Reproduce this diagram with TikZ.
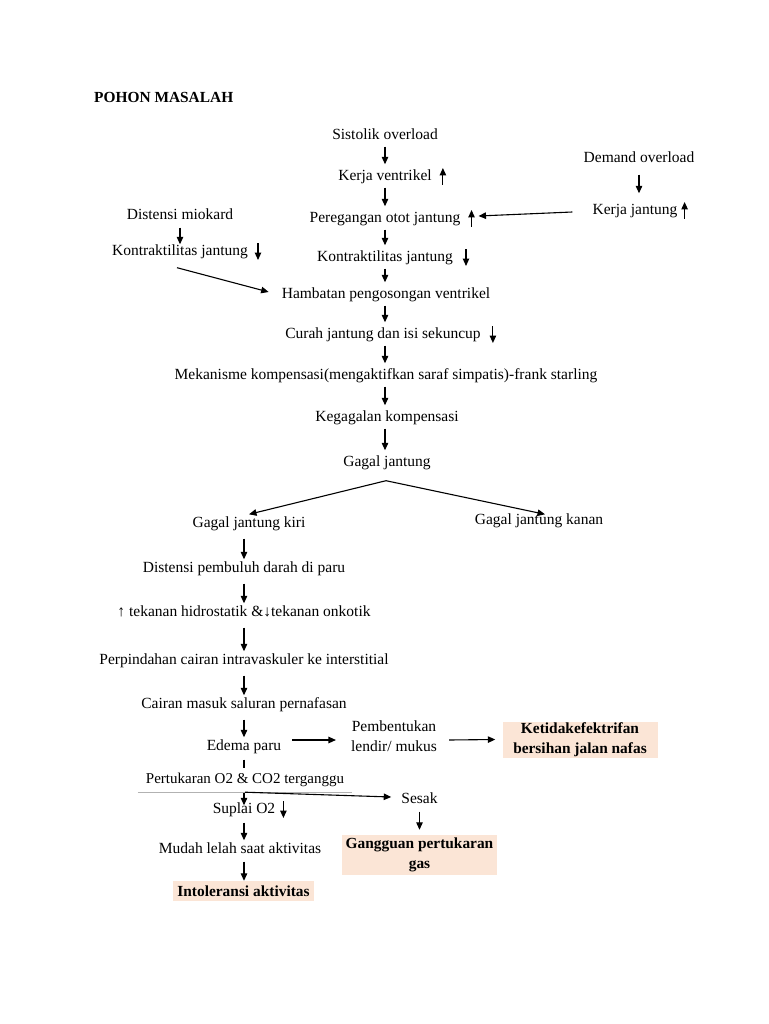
\documentclass[tikz,border=0pt]{standalone}
\usepackage{fontspec}
\setmainfont{Liberation Serif}
\usetikzlibrary{arrows.meta}
\definecolor{peach}{HTML}{FBE5D6}

% tanda naik / turun di samping teks
\newcommand\naik[2][10]{\draw[arr] ([shift={(#1,10)}]#2.east) -- ++(0,-17);}
\newcommand\turun[2][10]{\draw[arr] ([shift={(#1,-7)}]#2.east) -- ++(0,17);}

\begin{document}
\begin{tikzpicture}[x=1pt,y=-1pt,
  every node/.style={inner sep=1pt,text height=12pt,text depth=1pt,font=\fontsize{15.5}{19}\selectfont},
  arr/.style={-{Triangle[length=7.5pt,width=6.5pt]},line width=1.1pt},
  utama/.style={arr,shorten <=5pt,shorten >=3pt},
  kiri/.style={arr,shorten <=9pt,shorten >=0pt},
  hasil/.style={fill=peach,align=center,inner sep=0pt,text height=,text depth=,font=\fontsize{15.4}{19.5}\selectfont\bfseries}]
\useasboundingbox[fill=white] (0,0) rectangle (768,1024);

\node[anchor=west,font=\fontsize{15.4}{18}\selectfont\bfseries] (judul) at (93,97) {POHON MASALAH};

% jalur tengah
\node (so) at (385,134) {Sistolik overload};
\node (kv) at (385,175) {Kerja ventrikel};
\node (pj) at (385,217) {Peregangan otot jantung};
\node (km) at (385,256) {Kontraktilitas jantung};
\node (hb) at (386,293) {Hambatan pengosongan ventrikel};
\node (cj) at (383,333) {Curah jantung dan isi sekuncup};
\node (mk) at (386,374) {Mekanisme kompensasi(mengaktifkan saraf simpatis)-frank starling};
\node (kk) at (387,416) {Kegagalan kompensasi};
\node (gj) at (387,461) {Gagal jantung};

\draw[utama] (so.south -| km) -- (kv.north -| km);
\draw[utama] (kv.south -| km) -- (pj.north -| km);
\draw[utama] (pj.south -| km) -- (km.north);
\draw[utama] (km.south) -- (hb.north -| km);
\draw[utama] (hb.south -| km) -- (cj.north -| km);
\draw[utama] (cj.south -| km) -- (mk.north -| km);
\draw[utama] (mk.south -| km) -- (kk.north -| km);
\draw[utama] (kk.south -| km) -- (gj.north -| km);
\naik{kv}
\naik{pj}
\turun[12]{km}
\turun[11]{cj}

% kanan atas
\node (dmo) at (639,157) {Demand overload};
\node (kj) at (635,209) {Kerja jantung};
\draw[arr,shorten <=10pt,shorten >=8pt] (dmo.south) -- (dmo.south |- kj.north);
\naik[6]{kj}
\draw[arr] ([shift={(-19,3)}]kj.west) -- ([shift={(17,-1)}]pj.east);

% kiri atas
\node (dm) at (180,214) {Distensi miokard};
\node (kl) at (180,250) {Kontraktilitas jantung};
\draw[arr,shorten <=6pt,shorten >=-2pt] (dm) -- (kl);
\turun[9]{kl}
\draw[arr] ([shift={(-3,10)}]kl.south) -- ([shift={(-12,-1)}]hb.west);

% cabang
\node (gjki) at (249,522) {Gagal jantung kiri};
\node (gjka) at (539,519) {Gagal jantung kanan};
\draw[arr] ([shift={(-1,12)}]gj.south) -- (gjki.north);
\draw[arr] ([shift={(-1,12)}]gj.south) -- ([shift={(6,3)}]gjka.north);

% jalur kiri
\node (dp) at (244,567) {Distensi pembuluh darah di paru};
\node (tk) at (244,611) {↑ tekanan hidrostatik \&↓tekanan onkotik};
\node (pc) at (244,659) {Perpindahan cairan intravaskuler ke interstitial};
\node (cm) at (244,703) {Cairan masuk saluran pernafasan};
\node (ep) at (244,745) {Edema paru};
\node (sp) at (244,808) {Suplai O2};
\node (ml) at (240,848) {Mudah lelah saat aktivitas};
\node[hasil,minimum width=141pt,minimum height=20pt] (ia) at (243.5,891) {Intoleransi aktivitas};

\draw[kiri] (gjki.south -| dp) -- (dp);
\draw[kiri] (dp) -- (tk);
\draw[kiri] (tk) -- (pc);
\draw[kiri] (pc) -- (cm);
\draw[kiri] (cm) -- (ep);
\draw[arr,shorten <=7pt,shorten >=-5pt] (ep) -- (sp);
\turun[7]{sp}
\draw[arr,shorten <=7pt,shorten >=0pt] (sp.south) -- (ml.north -| sp);
\draw[arr,shorten <=6pt,shorten >=0pt] (ml.south -| sp) -- (ia.north -| sp);

% kotak putih menutupi panah
\node[fill=white,minimum width=214pt,minimum height=24pt,text height=,text depth=,font=\fontsize{15}{18}\selectfont] (pt) at (245,780) {Pertukaran O2 \& CO2 terganggu};
\draw[gray!60,line width=0.7pt] (pt.south west) -- (pt.south east);

% cabang kanan bawah
\node[align=center,text height=,text depth=,font=\fontsize{15.5}{20}\selectfont] (pl) at (394,736) {Pembentukan\\lendir/ mukus};
\node[hasil,minimum width=155pt,minimum height=36pt] (kb) at (580,739.5) {Ketidakefektrifan\\bersihan jalan nafas};
\draw[arr] ([shift={(10,-5)}]ep.east) -- ([shift={(-14,4)}]pl.west);
\draw[arr] ([shift={(11,4)}]pl.east) -- ([shift={(-7,0)}]kb.west);

\node (ss) at (419.5,798) {Sesak};
\node[hasil,minimum width=155pt,minimum height=40pt] (gg) at (419.5,855) {Gangguan pertukaran\\gas};
\draw[arr] (pt.south) -- ([shift={(-9,-1)}]ss.west);
\draw[arr,shorten <=6pt,shorten >=5pt] (ss) -- (gg);
\end{tikzpicture}
\end{document}
